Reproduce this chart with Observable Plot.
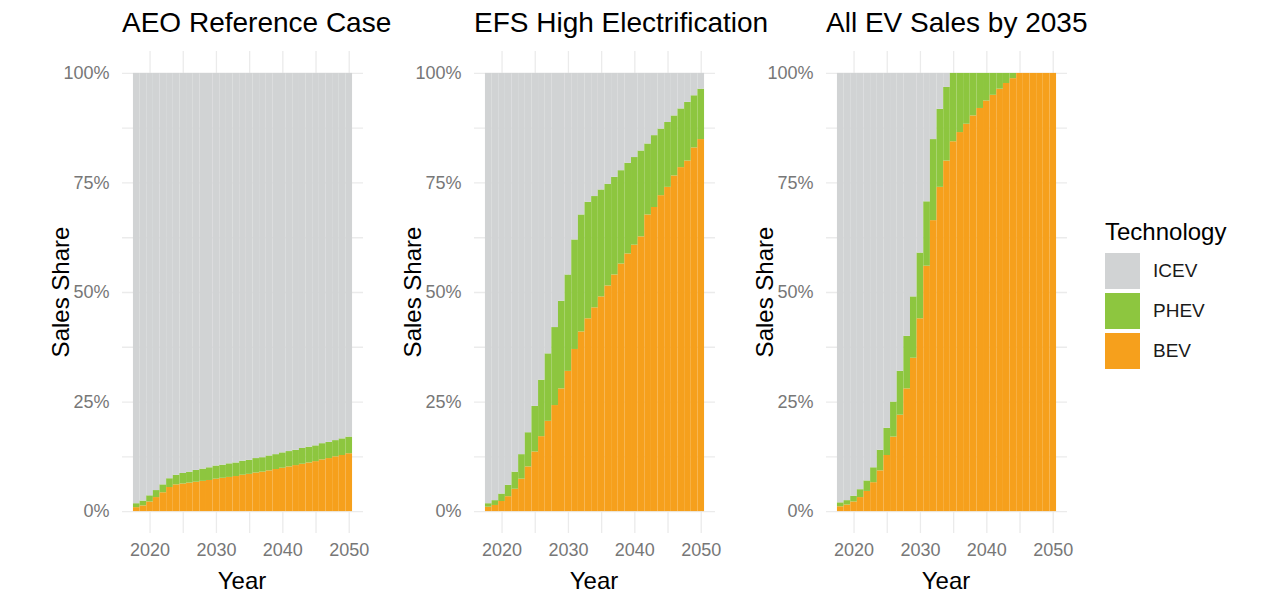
<!DOCTYPE html>
<html>
<head>
<meta charset="utf-8">
<script src="https://cdn.jsdelivr.net/npm/d3@7"></script>
<script src="https://cdn.jsdelivr.net/npm/@observablehq/plot@0.6"></script>
<style>
  body { margin: 0; background: #fff; font-family: "Liberation Sans", Arial, sans-serif; }
  #root { position: relative; width: 1262px; height: 609px; overflow: hidden; background: #fff; }
  .title { position: absolute; top: 6px; font-size: 28px; line-height: 34px; color: #000; white-space: nowrap; }
  .chart { position: absolute; top: 40px; }
  .ytitle { position: absolute; width: 200px; margin-left: -100px; height: 28px; margin-top: -14px;
            text-align: center; font-size: 24px; line-height: 28px; color: #000; white-space: nowrap;
            transform: rotate(-90deg); }
  .xtitle { position: absolute; width: 200px; margin-left: -100px; height: 28px; margin-top: -14px;
            text-align: center; font-size: 24px; line-height: 28px; color: #000; white-space: nowrap; }
  .legend { position: absolute; left: 1105px; top: 218px; }
  .legend .ltitle { position: absolute; left: 0; top: 0; font-size: 24px; line-height: 28px; color: #000; white-space: nowrap; }
  .legend .key { position: absolute; left: 0; width: 35px; height: 36px; }
  .legend .lab { position: absolute; left: 48px; font-size: 19px; line-height: 36px; color: #1a1a1a; white-space: nowrap; }
</style>
</head>
<body>
<div id="root"></div>
<script>
// ---- data ----
const scenarios = ["AEO Reference Case", "EFS High Electrification", "All EV Sales by 2035"];
const technologies = ["ICEV", "PHEV", "BEV"];            // legend order (top of stack first)
const techColors = ["#d1d3d4", "#8dc63f", "#f6a01c"];
const years = [2018, 2019, 2020, 2021, 2022, 2023, 2024, 2025, 2026, 2027, 2028,
               2029, 2030, 2031, 2032, 2033, 2034, 2035, 2036, 2037, 2038, 2039,
               2040, 2041, 2042, 2043, 2044, 2045, 2046, 2047, 2048, 2049, 2050];
const xTicks = [2020, 2030, 2040, 2050];
const xGrid = [2020, 2025, 2030, 2035, 2040, 2045, 2050];
const yTicks = [0, 0.25, 0.5, 0.75, 1];
const yGrid = [0, 0.125, 0.25, 0.375, 0.5, 0.625, 0.75, 0.875, 1];
const xTitle = "Year";
const yTitle = "Sales Share";
const legendTitle = "Technology";

// sales share, percent
const aeoBEV  = [0.9, 1.3, 2.2, 3.2, 4.3, 5.5, 6.1, 6.3, 6.5, 6.7, 6.9, 7.1, 7.4, 7.6, 7.8, 8.0, 8.3,
                 8.5, 8.8, 9.0, 9.3, 9.6, 9.9, 10.2, 10.5, 10.8, 11.1, 11.4, 11.8, 12.1, 12.5, 12.8, 13.2];
const aeoPHEV = [0.9, 1.1, 1.4, 1.6, 1.8, 2.0, 2.2, 2.4, 2.5, 2.7, 2.8, 2.9, 3.0, 3.0, 3.1, 3.1, 3.2,
                 3.2, 3.3, 3.3, 3.4, 3.4, 3.5, 3.5, 3.5, 3.6, 3.6, 3.6, 3.7, 3.7, 3.7, 3.8, 3.8];
const aeoICEV = [98.2, 97.6, 96.4, 95.2, 93.9, 92.5, 91.7, 91.3, 91.0, 90.6, 90.3, 90.0, 89.6, 89.4, 89.1, 88.9, 88.5,
                 88.3, 87.9, 87.7, 87.3, 87.0, 86.6, 86.3, 86.0, 85.6, 85.3, 85.0, 84.5, 84.2, 83.8, 83.4, 83.0];

const efsBEV  = [1.0, 1.4, 2.3, 3.4, 5.1, 7.4, 10.2, 13.6, 17.1, 20.6, 24.2, 28.0, 32.0, 37.0, 41.0, 44.0, 46.5,
                 49.0, 51.5, 54.0, 56.5, 58.8, 60.8, 62.7, 67.7, 69.4, 72.1, 74.0, 76.6, 78.5, 80.0, 83.0, 84.9];
const efsPHEV = [0.8, 1.1, 1.7, 2.6, 3.9, 5.6, 7.8, 10.4, 12.9, 15.4, 17.8, 20.0, 22.0, 25.0, 26.7, 26.6, 25.4,
                 24.4, 23.2, 22.3, 21.3, 20.7, 20.0, 19.6, 16.2, 16.4, 15.2, 14.8, 13.7, 13.4, 13.4, 11.9, 11.5];
const efsICEV = [98.2, 97.5, 96.0, 94.0, 91.0, 87.0, 82.0, 76.0, 70.0, 64.0, 58.0, 52.0, 46.0, 38.0, 32.3, 29.4, 28.1,
                 26.6, 25.3, 23.7, 22.2, 20.5, 19.2, 17.7, 16.1, 14.2, 12.7, 11.2, 9.7, 8.1, 6.6, 5.1, 3.6];

const allBEV  = [1.1, 1.5, 2.2, 3.2, 4.6, 6.6, 9.3, 12.8, 17.0, 22.0, 28.0, 35.0, 44.0, 56.0, 66.4, 74.0, 80.0,
                 84.4, 86.5, 88.4, 90.3, 92.0, 93.7, 95.0, 96.4, 97.7, 98.8, 100, 100, 100, 100, 100, 100];
const allPHEV = [0.9, 1.0, 1.3, 1.8, 2.4, 3.4, 4.7, 6.2, 8.0, 10.0, 12.0, 14.0, 15.0, 14.7, 18.5, 17.8, 16.8,
                 15.6, 13.5, 11.6, 9.7, 8.0, 6.3, 5.0, 3.6, 2.3, 1.2, 0, 0, 0, 0, 0, 0];
const allICEV = [98.0, 97.5, 96.5, 95.0, 93.0, 90.0, 86.0, 81.0, 75.0, 68.0, 60.0, 51.0, 41.0, 29.3, 15.1, 8.2, 3.2,
                 0, 0, 0, 0, 0, 0, 0, 0, 0, 0, 0, 0, 0, 0, 0, 0];

const scenarioSeries = [
  {ICEV: aeoICEV, PHEV: aeoPHEV, BEV: aeoBEV},
  {ICEV: efsICEV, PHEV: efsPHEV, BEV: efsBEV},
  {ICEV: allICEV, PHEV: allPHEV, BEV: allBEV}
];

// ---- layout ----
const root = document.getElementById("root");
const font = "'Liberation Sans', Arial, sans-serif";
const stackOrder = ["BEV", "PHEV", "ICEV"]; // bottom to top

function addDiv(cls, text, left, top) {
  const d = document.createElement("div");
  d.className = cls;
  d.textContent = text;
  d.style.left = left + "px";
  d.style.top = top + "px";
  root.appendChild(d);
  return d;
}

scenarios.forEach((name, i) => {
  const series = scenarioSeries[i];
  const rows = [];
  years.forEach((yr, j) => {
    let base = 0;
    for (const tech of stackOrder) {
      const v = series[tech][j] / 100;
      rows.push({year: yr, tech, x1: yr - 0.5, x2: yr + 0.5, y1: base, y2: base + v});
      base += v;
    }
  });

  const chart = Plot.plot({
    width: 353,
    height: 569,
    marginLeft: 112,
    marginRight: 0,
    marginTop: 11,
    marginBottom: 76,
    x: {domain: [2015.85, 2052.15]},
    y: {domain: [-0.05, 1.05]},
    color: {domain: technologies, range: techColors},
    style: {fontFamily: font, background: "transparent", overflow: "visible"},
    marks: [
      Plot.gridX(xGrid, {stroke: "#ebebeb", strokeOpacity: 1, strokeWidth: 1.3}),
      Plot.gridY(yGrid, {stroke: "#ebebeb", strokeOpacity: 1, strokeWidth: 1.3}),
      Plot.rect(rows, {x1: "x1", x2: "x2", y1: "y1", y2: "y2", fill: "tech"}),
      Plot.axisX(xTicks, {tickSize: 0, tickPadding: 10, tickFormat: d => String(d), fontSize: 18, fill: "#777", label: null}),
      Plot.axisY(yTicks, {tickSize: 0, tickPadding: 13, tickFormat: d3.format(".0%"), fontSize: 18, fill: "#777", label: null})
    ]
  });
  chart.classList.add("chart");
  chart.style.left = (10 + 352 * i) + "px";
  root.appendChild(chart);

  addDiv("title", name, 122 + 352 * i, 6);
  addDiv("ytitle", yTitle, 61 + 352 * i, 292);
  addDiv("xtitle", xTitle, 242 + 352 * i, 581);
});

// legend
const legend = document.createElement("div");
legend.className = "legend";
const lt = document.createElement("div");
lt.className = "ltitle";
lt.textContent = legendTitle;
legend.appendChild(lt);
technologies.forEach((tech, k) => {
  const top = 35 + 40 * k;
  const key = document.createElement("div");
  key.className = "key";
  key.style.top = top + "px";
  key.style.background = techColors[k];
  legend.appendChild(key);
  const lab = document.createElement("div");
  lab.className = "lab";
  lab.style.top = top + "px";
  lab.textContent = tech;
  legend.appendChild(lab);
});
root.appendChild(legend);
</script>
</body>
</html>
